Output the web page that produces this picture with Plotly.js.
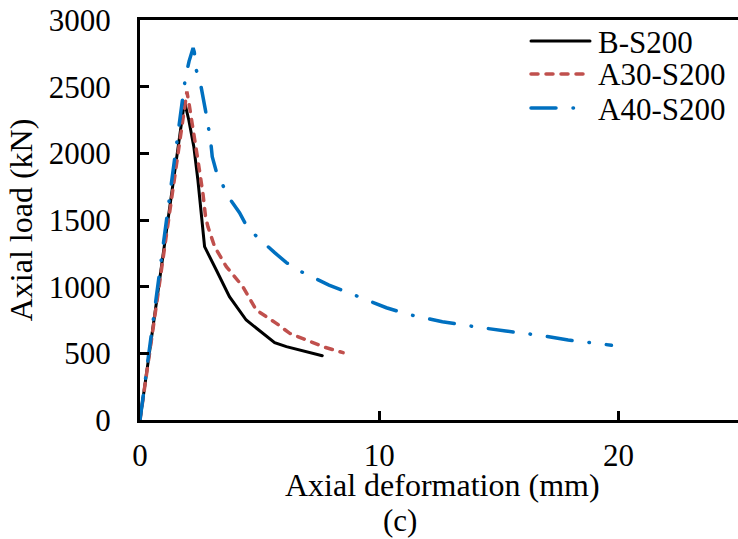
<!DOCTYPE html>
<html>
<head>
<meta charset="utf-8">
<script src="https://cdn.plot.ly/plotly-3.0.1.min.js"></script>
<style>
html,body{margin:0;padding:0;background:#fff;}
#chart{width:738px;height:539px;}
#chart path.js-line, #chart .shapelayer path{stroke-linecap:round;}
</style>
</head>
<body>
<div id="chart"></div>
<script>
// B-S200
const bX = [0, 1.86, 2.04, 2.25, 2.42, 2.56, 2.70, 3.19, 3.74, 4.44, 5.14, 5.63, 6.12, 6.95, 7.62];
const bY = [0, 2388, 2250, 2050, 1800, 1550, 1300, 1125, 925, 750, 650, 580, 550, 512, 482];
// A30-S200
const aX = [0, 1.96, 2.07, 2.28, 2.42, 2.63, 2.74, 2.84, 3.12, 3.61, 4.30, 4.86, 5.70, 6.26, 6.95, 7.65, 8.49];
const aY = [0, 2463, 2350, 2125, 1950, 1700, 1525, 1450, 1300, 1150, 1000, 825, 725, 650, 600, 550, 505];
// A40-S200
const cX = [0, 1.90, 2.05, 2.22, 2.27, 2.35, 2.49, 2.60, 2.74, 2.95, 3.02, 3.21, 3.74, 4.16, 4.51, 5.63, 6.12, 6.74, 7.90, 8.50, 9.18, 10.30, 10.97, 11.39, 12.64, 13.30, 13.99, 15.29, 15.97, 16.64, 17.90, 18.61, 19.30, 19.71];
const cY = [0, 2570, 2690, 2790, 2760, 2625, 2560, 2440, 2320, 2100, 1975, 1850, 1662, 1555, 1437, 1255, 1180, 1112, 1012, 970, 920, 842, 805, 785, 737, 717, 700, 667, 655, 637, 600, 587, 570, 560];

const names = ['B-S200', 'A30-S200', 'A40-S200'];
const colors = ['#000000', '#C0504D', '#0070C0'];
const dashes = ['solid', '7px,8px', '25px,17px,0.5px,17px'];
const widths = [3, 3.5, 3.5];
const xTicks = [0, 10, 20];
const yTicks = [0, 500, 1000, 1500, 2000, 2500, 3000];
const xTitle = 'Axial deformation (mm)';
const yTitle = 'Axial load (kN)';
const panel = '(c)';

const font = 'Liberation Serif, Times New Roman, serif';
const FS = 31;
const TFS = 32;

const xs = [bX, aX, cX], ys = [bY, aY, cY];
const data = xs.map((x, i) => ({
  x: x, y: ys[i], name: names[i], mode: 'lines', showlegend: false,
  line: {color: colors[i], width: widths[i], dash: dashes[i]}
}));

// manual legend (paper coords: plot area 140..738 x, 20..420 y)
const px = p => (p - 140) / 598;
const py = p => (420 - p) / 400;
const rows = [41, 74, 108];
const shapes = [], annotations = [];
names.forEach((n, i) => {
  shapes.push({type: 'line', xref: 'paper', yref: 'paper', x0: px(531), x1: px(590), y0: py(rows[i]), y1: py(rows[i]),
               line: {color: colors[i], width: widths[i], dash: dashes[i]}});
  annotations.push({text: n, xref: 'paper', yref: 'paper', x: px(596), y: py(rows[i] + 1), xanchor: 'left', yanchor: 'middle',
                    showarrow: false, font: {family: font, size: FS, color: '#000'}});
});
annotations.push({text: xTitle, xref: 'paper', yref: 'paper', x: px(442), y: py(485), xanchor: 'center', yanchor: 'middle',
                  showarrow: false, font: {family: font, size: TFS, color: '#000'}});
annotations.push({text: panel, xref: 'paper', yref: 'paper', x: px(400), y: py(520), xanchor: 'center', yanchor: 'middle',
                  showarrow: false, font: {family: font, size: FS, color: '#000'}});

const layout = {
  width: 738, height: 539,
  margin: {l: 140, r: 0, t: 20, b: 119},
  paper_bgcolor: '#ffffff', plot_bgcolor: '#ffffff',
  font: {family: font, size: FS, color: '#000'},
  showlegend: false,
  xaxis: {
    range: [0, 25], tickvals: xTicks, ticktext: xTicks.map(String),
    showgrid: false, zeroline: false, showline: true, linecolor: '#000', linewidth: 3, mirror: true,
    ticks: 'inside', ticklen: 9, tickwidth: 3, tickcolor: '#000',
    ticklabelstandoff: 6, automargin: false
  },
  yaxis: {
    range: [0, 3000], tickvals: yTicks, ticktext: yTicks.map(String),
    showgrid: false, zeroline: false, showline: true, linecolor: '#000', linewidth: 3,
    ticks: 'inside', ticklen: 9, tickwidth: 3, tickcolor: '#000',
    ticklabelstandoff: 20, automargin: false,
    title: {text: yTitle, standoff: 7, font: {family: font, size: TFS}}
  },
  shapes: shapes,
  annotations: annotations
};

Plotly.newPlot('chart', data, layout, {displayModeBar: false, staticPlot: true});
</script>
</body>
</html>
